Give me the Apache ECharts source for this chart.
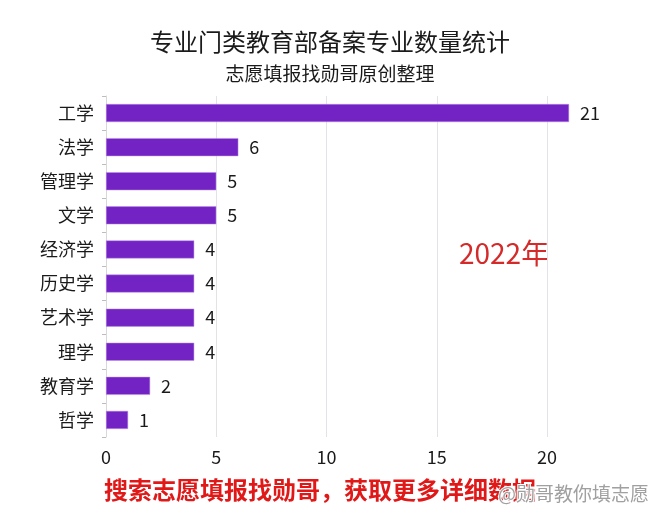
<!DOCTYPE html>
<html>
<head>
<meta charset="utf-8">
<script src="https://cdn.jsdelivr.net/npm/echarts@6/dist/echarts.min.js"></script>
<style>
  html, body { margin: 0; padding: 0; background: #fff; }
  #chart { width: 660px; height: 515px; }
</style>
</head>
<body>
<div id="chart"></div>
<script>
var categories = ['工学', '法学', '管理学', '文学', '经济学', '历史学', '艺术学', '理学', '教育学', '哲学'];
var counts = [21, 6, 5, 5, 4, 4, 4, 4, 2, 1];
var xTicks = [0, 5, 10, 15, 20];

var font = '"Noto Sans CJK SC", "Noto Sans", sans-serif';
var chart = echarts.init(document.getElementById('chart'));

chart.setOption({
  backgroundColor: '#fff',
  textStyle: { fontFamily: font },
  title: [{
    text: '专业门类教育部备案专业数量统计',
    left: 'center',
    top: 25,
    textStyle: { fontSize: 24, fontWeight: 'normal', color: '#1a1a1a', fontFamily: font }
  }, {
    text: '志愿填报找勋哥原创整理',
    left: 'center',
    top: 59,
    textStyle: { fontSize: 19, fontWeight: 'normal', color: '#1a1a1a', fontFamily: font }
  }],
  grid: { left: 106, right: 113, top: 96, bottom: 78 },
  xAxis: {
    type: 'value',
    min: xTicks[0],
    max: xTicks[xTicks.length - 1],
    interval: 5,
    axisLine: { show: false },
    axisTick: { show: false },
    axisLabel: { fontSize: 18, color: '#1a1a1a', margin: 11 },
    splitLine: { show: true, lineStyle: { color: '#e2e2e8' } }
  },
  yAxis: {
    type: 'category',
    data: categories,
    inverse: true,
    axisLine: { show: true, lineStyle: { color: '#d8d8d8' } },
    axisTick: { show: true, length: 4, lineStyle: { color: '#bdbdbd' } },
    axisLabel: { fontSize: 18, color: '#1a1a1a', margin: 12 }
  },
  series: [{
    type: 'bar',
    data: counts,
    barWidth: 18,
    clip: false,
    itemStyle: { color: '#7322c4', borderColor: '#b890e8', borderWidth: 0.5 },
    label: {
      show: true,
      position: 'right',
      distance: 11,
      fontSize: 18,
      color: '#1a1a1a'
    }
  }],
  graphic: [{
    type: 'text',
    left: 459,
    top: 239,
    style: { text: '2022年', fontSize: 28, fill: '#d42a2a', fontFamily: font }
  }, {
    type: 'text',
    left: 104,
    top: 478,
    style: { text: '搜索志愿填报找勋哥，获取更多详细数据', fontSize: 24, fontWeight: 'bold', fill: '#e01818', fontFamily: font }
  }, {
    type: 'text',
    right: 10,
    top: 483,
    z: 100,
    style: { text: '@勋哥教你填志愿', fontSize: 19, fill: '#a0a0a0', stroke: '#ffffff', lineWidth: 2, fontFamily: font }
  }]
});
</script>
</body>
</html>
